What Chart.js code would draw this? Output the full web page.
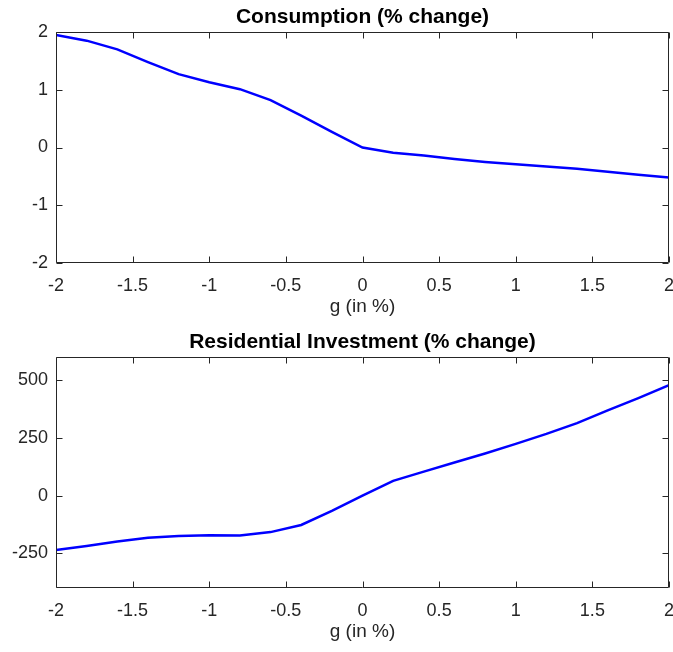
<!DOCTYPE html>
<html>
<head>
<meta charset="utf-8">
<script src="https://cdn.jsdelivr.net/npm/chart.js@4.4.1/dist/chart.umd.min.js"></script>
<style>
  html, body { margin:0; padding:0; background:#fff; overflow:hidden; }
  .wrap { position:absolute; left:0; width:673px; height:326px; }
  #w1 { top:0; }
  #w2 { top:325px; }
</style>
</head>
<body>
<div class="wrap" id="w1"><canvas id="c1" width="673" height="326"></canvas></div>
<div class="wrap" id="w2"><canvas id="c2" width="673" height="326"></canvas></div>
<script>
// ---- data ----
const gValues = [-2, -1.8, -1.6, -1.4, -1.2, -1, -0.8, -0.6, -0.4, -0.2, 0, 0.2, 0.4, 0.6, 0.8, 1, 1.2, 1.4, 1.6, 1.8, 2];
const consumption = [1.95, 1.85, 1.70, 1.48, 1.27, 1.13, 1.01, 0.82, 0.55, 0.27, 0.00, -0.09, -0.14, -0.20, -0.25, -0.29, -0.33, -0.37, -0.42, -0.47, -0.52];
const residential = [-236, -218, -199, -182, -175, -172, -173, -158, -127, -66, 0, 64, 104, 143, 182, 224, 267, 314, 369, 422, 478];
const xTicks = [-2, -1.5, -1, -0.5, 0, 0.5, 1, 1.5, 2];
const yTicks1 = [-2, -1, 0, 1, 2];
const yTicks2 = [-250, 0, 250, 500];
const titles = ["Consumption (% change)", "Residential Investment (% change)"];
const xLabel = "g (in %)";

const FONT = '"Liberation Sans", Arial, Helvetica, sans-serif';
const AXC = '#262626';

const boxPlugin = {
  id: 'matlabBox',
  afterDraw(chart, args, opts) {
    const { ctx, chartArea: a, scales } = chart;
    const x = scales.x, y = scales.y;
    ctx.save();
    ctx.strokeStyle = AXC;
    ctx.lineWidth = 1;
    const l = Math.round(a.left) + 0.5, r = Math.round(a.right) - 0.5;
    const t = Math.round(a.top) + 0.5, b = Math.round(a.bottom) - 0.5;
    ctx.beginPath();
    ctx.rect(l, t, r - l, b - t);
    const L = 6;
    x.ticks.forEach(tk => {
      const px = Math.round(x.getPixelForValue(tk.value)) + 0.5;
      ctx.moveTo(px, b); ctx.lineTo(px, b - L);
      ctx.moveTo(px, t); ctx.lineTo(px, t + L);
    });
    y.ticks.forEach(tk => {
      const py = Math.round(y.getPixelForValue(tk.value)) + 0.5;
      ctx.moveTo(l, py); ctx.lineTo(l + L, py);
      ctx.moveTo(r, py); ctx.lineTo(r - L, py);
    });
    ctx.stroke();
    ctx.fillStyle = '#000';
    ctx.font = 'bold 21px ' + FONT;
    ctx.textAlign = 'center';
    ctx.textBaseline = 'alphabetic';
    ctx.fillText(opts.text, (a.left + a.right) / 2, a.top - 9.5);
    ctx.restore();
  }
};

function makeChart(id, values, yMin, yMax, yTickVals, title) {
  return new Chart(document.getElementById(id), {
    type: 'line',
    data: {
      datasets: [{
        data: gValues.map((g, i) => ({ x: g, y: values[i] })),
        borderColor: '#0000ff',
        borderWidth: 2.5,
        pointRadius: 0,
        tension: 0,
        fill: false
      }]
    },
    options: {
      responsive: false,
      animation: false,
      devicePixelRatio: 1,
      layout: { autoPadding: false, padding: { left: 0, right: 4, top: 32, bottom: 0 } },
      plugins: { legend: { display: false }, tooltip: { enabled: false }, matlabBox: { text: title } },
      scales: {
        x: {
          type: 'linear',
          min: -2, max: 2,
          afterBuildTicks: s => { s.ticks = xTicks.map(v => ({ value: v })); },
          afterFit: s => { s.height = 63; s.paddingLeft = 0; s.paddingRight = 0; },
          grid: { display: false, drawTicks: false },
          border: { display: false },
          ticks: { color: AXC, font: { family: FONT, size: 18 }, padding: 12, maxRotation: 0, autoSkip: false,
                   callback: v => String(v) },
          title: { display: true, text: xLabel, color: AXC, font: { family: FONT, size: 19 }, padding: { top: 0, bottom: 8 } }
        },
        y: {
          type: 'linear',
          min: yMin, max: yMax,
          afterBuildTicks: s => { s.ticks = yTickVals.map(v => ({ value: v })); },
          afterFit: s => { s.width = 56; s.paddingTop = 0; s.paddingBottom = 0; },
          grid: { display: false, drawTicks: false },
          border: { display: false },
          ticks: { color: AXC, font: { family: FONT, size: 18 }, padding: 8, autoSkip: false,
                   callback: v => String(v) }
        }
      }
    },
    plugins: [boxPlugin]
  });
}

makeChart('c1', consumption, -2, 2, yTicks1, titles[0]);
makeChart('c2', residential, -400, 600, yTicks2, titles[1]);
</script>
</body>
</html>
